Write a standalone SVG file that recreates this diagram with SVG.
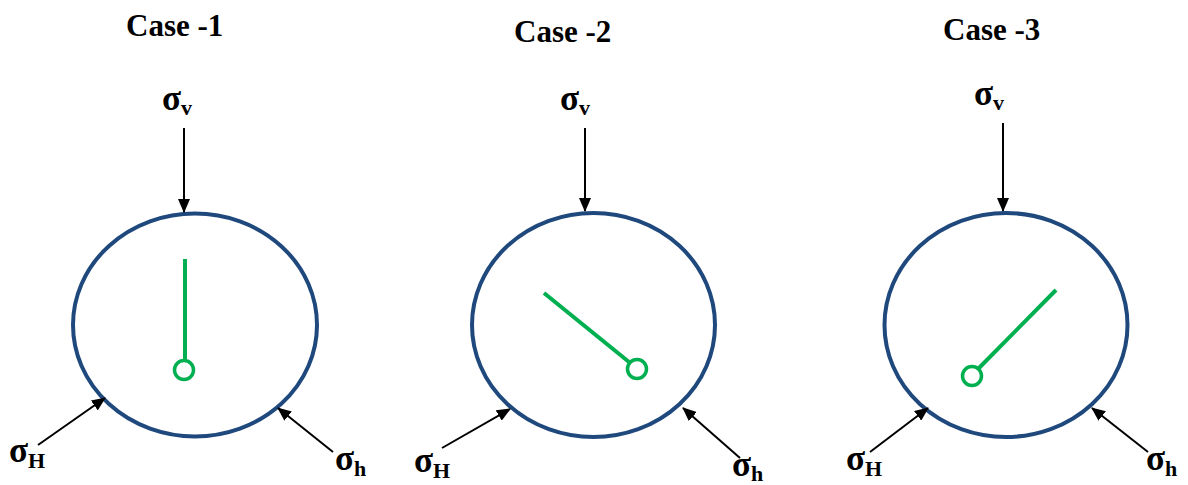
<svg xmlns="http://www.w3.org/2000/svg" width="1188" height="485" viewBox="0 0 1188 485">
<style>
.title{font-family:"Liberation Serif",serif;font-weight:bold;font-size:31px;fill:#000}
.sig{font-family:"Liberation Serif",serif;font-weight:bold;font-size:35px;fill:#000}
.sub{font-size:22px}
.well{fill:none;stroke:#1f497d;stroke-width:4}
.frac{stroke:#00b050;stroke-width:4;fill:none}
.hole{fill:#fff;stroke:#00b050;stroke-width:3.5}
.arr{stroke:#000;stroke-width:2;fill:none;marker-end:url(#ah)}
</style>
<defs>
<marker id="ah" viewBox="0 0 14 12" refX="13" refY="6" markerWidth="14" markerHeight="12" markerUnits="userSpaceOnUse" orient="auto">
<path d="M0,0 L14,6 L0,12 z" fill="#000"/>
</marker>
</defs>
<rect width="1188" height="485" fill="#fff"/>

<g id="case1">
<text class="title" x="126" y="36">Case -1</text>
<ellipse class="well" cx="195" cy="325" rx="122" ry="111.5"/>
<line class="frac" x1="185" y1="259" x2="185" y2="361"/>
<circle class="hole" cx="184" cy="370" r="9.5"/>
<text class="sig" x="162" y="110">σ<tspan class="sub" dy="5">v</tspan></text>
<text class="sig" x="9" y="462">σ<tspan class="sub" dy="6">H</tspan></text>
<text class="sig" x="335" y="470">σ<tspan class="sub" dy="6">h</tspan></text>
</g>

<g id="case2">
<text class="title" x="514" y="42">Case -2</text>
<ellipse class="well" cx="593.5" cy="325" rx="121.5" ry="112"/>
<line class="frac" x1="544" y1="293" x2="629" y2="362"/>
<circle class="hole" cx="637" cy="369" r="9.5"/>
<text class="sig" x="560" y="110">σ<tspan class="sub" dy="5">v</tspan></text>
<text class="sig" x="414" y="472">σ<tspan class="sub" dy="6">H</tspan></text>
<text class="sig" x="732" y="476">σ<tspan class="sub" dy="5">h</tspan></text>
</g>

<g id="case3">
<text class="title" x="943" y="40">Case -3</text>
<ellipse class="well" cx="1006" cy="325" rx="121.5" ry="112"/>
<line class="frac" x1="1056" y1="290" x2="979" y2="368"/>
<circle class="hole" cx="972" cy="376" r="9.5"/>
<text class="sig" x="974" y="105">σ<tspan class="sub" dy="5">v</tspan></text>
<text class="sig" x="846" y="470">σ<tspan class="sub" dy="6">H</tspan></text>
<text class="sig" x="1146" y="470">σ<tspan class="sub" dy="6">h</tspan></text>
</g>

<g id="connectors">
<line class="arr" x1="184" y1="128" x2="184" y2="212"/>
<line class="arr" x1="38" y1="445" x2="105" y2="398"/>
<line class="arr" x1="333" y1="452" x2="278" y2="408"/>
<line class="arr" x1="585" y1="128" x2="585" y2="211"/>
<line class="arr" x1="442" y1="448" x2="510" y2="409"/>
<line class="arr" x1="740" y1="458" x2="683" y2="408"/>
<line class="arr" x1="1003" y1="123" x2="1003" y2="211"/>
<line class="arr" x1="870" y1="452" x2="928" y2="408"/>
<line class="arr" x1="1148" y1="452" x2="1092" y2="408"/>
</g>
</svg>
